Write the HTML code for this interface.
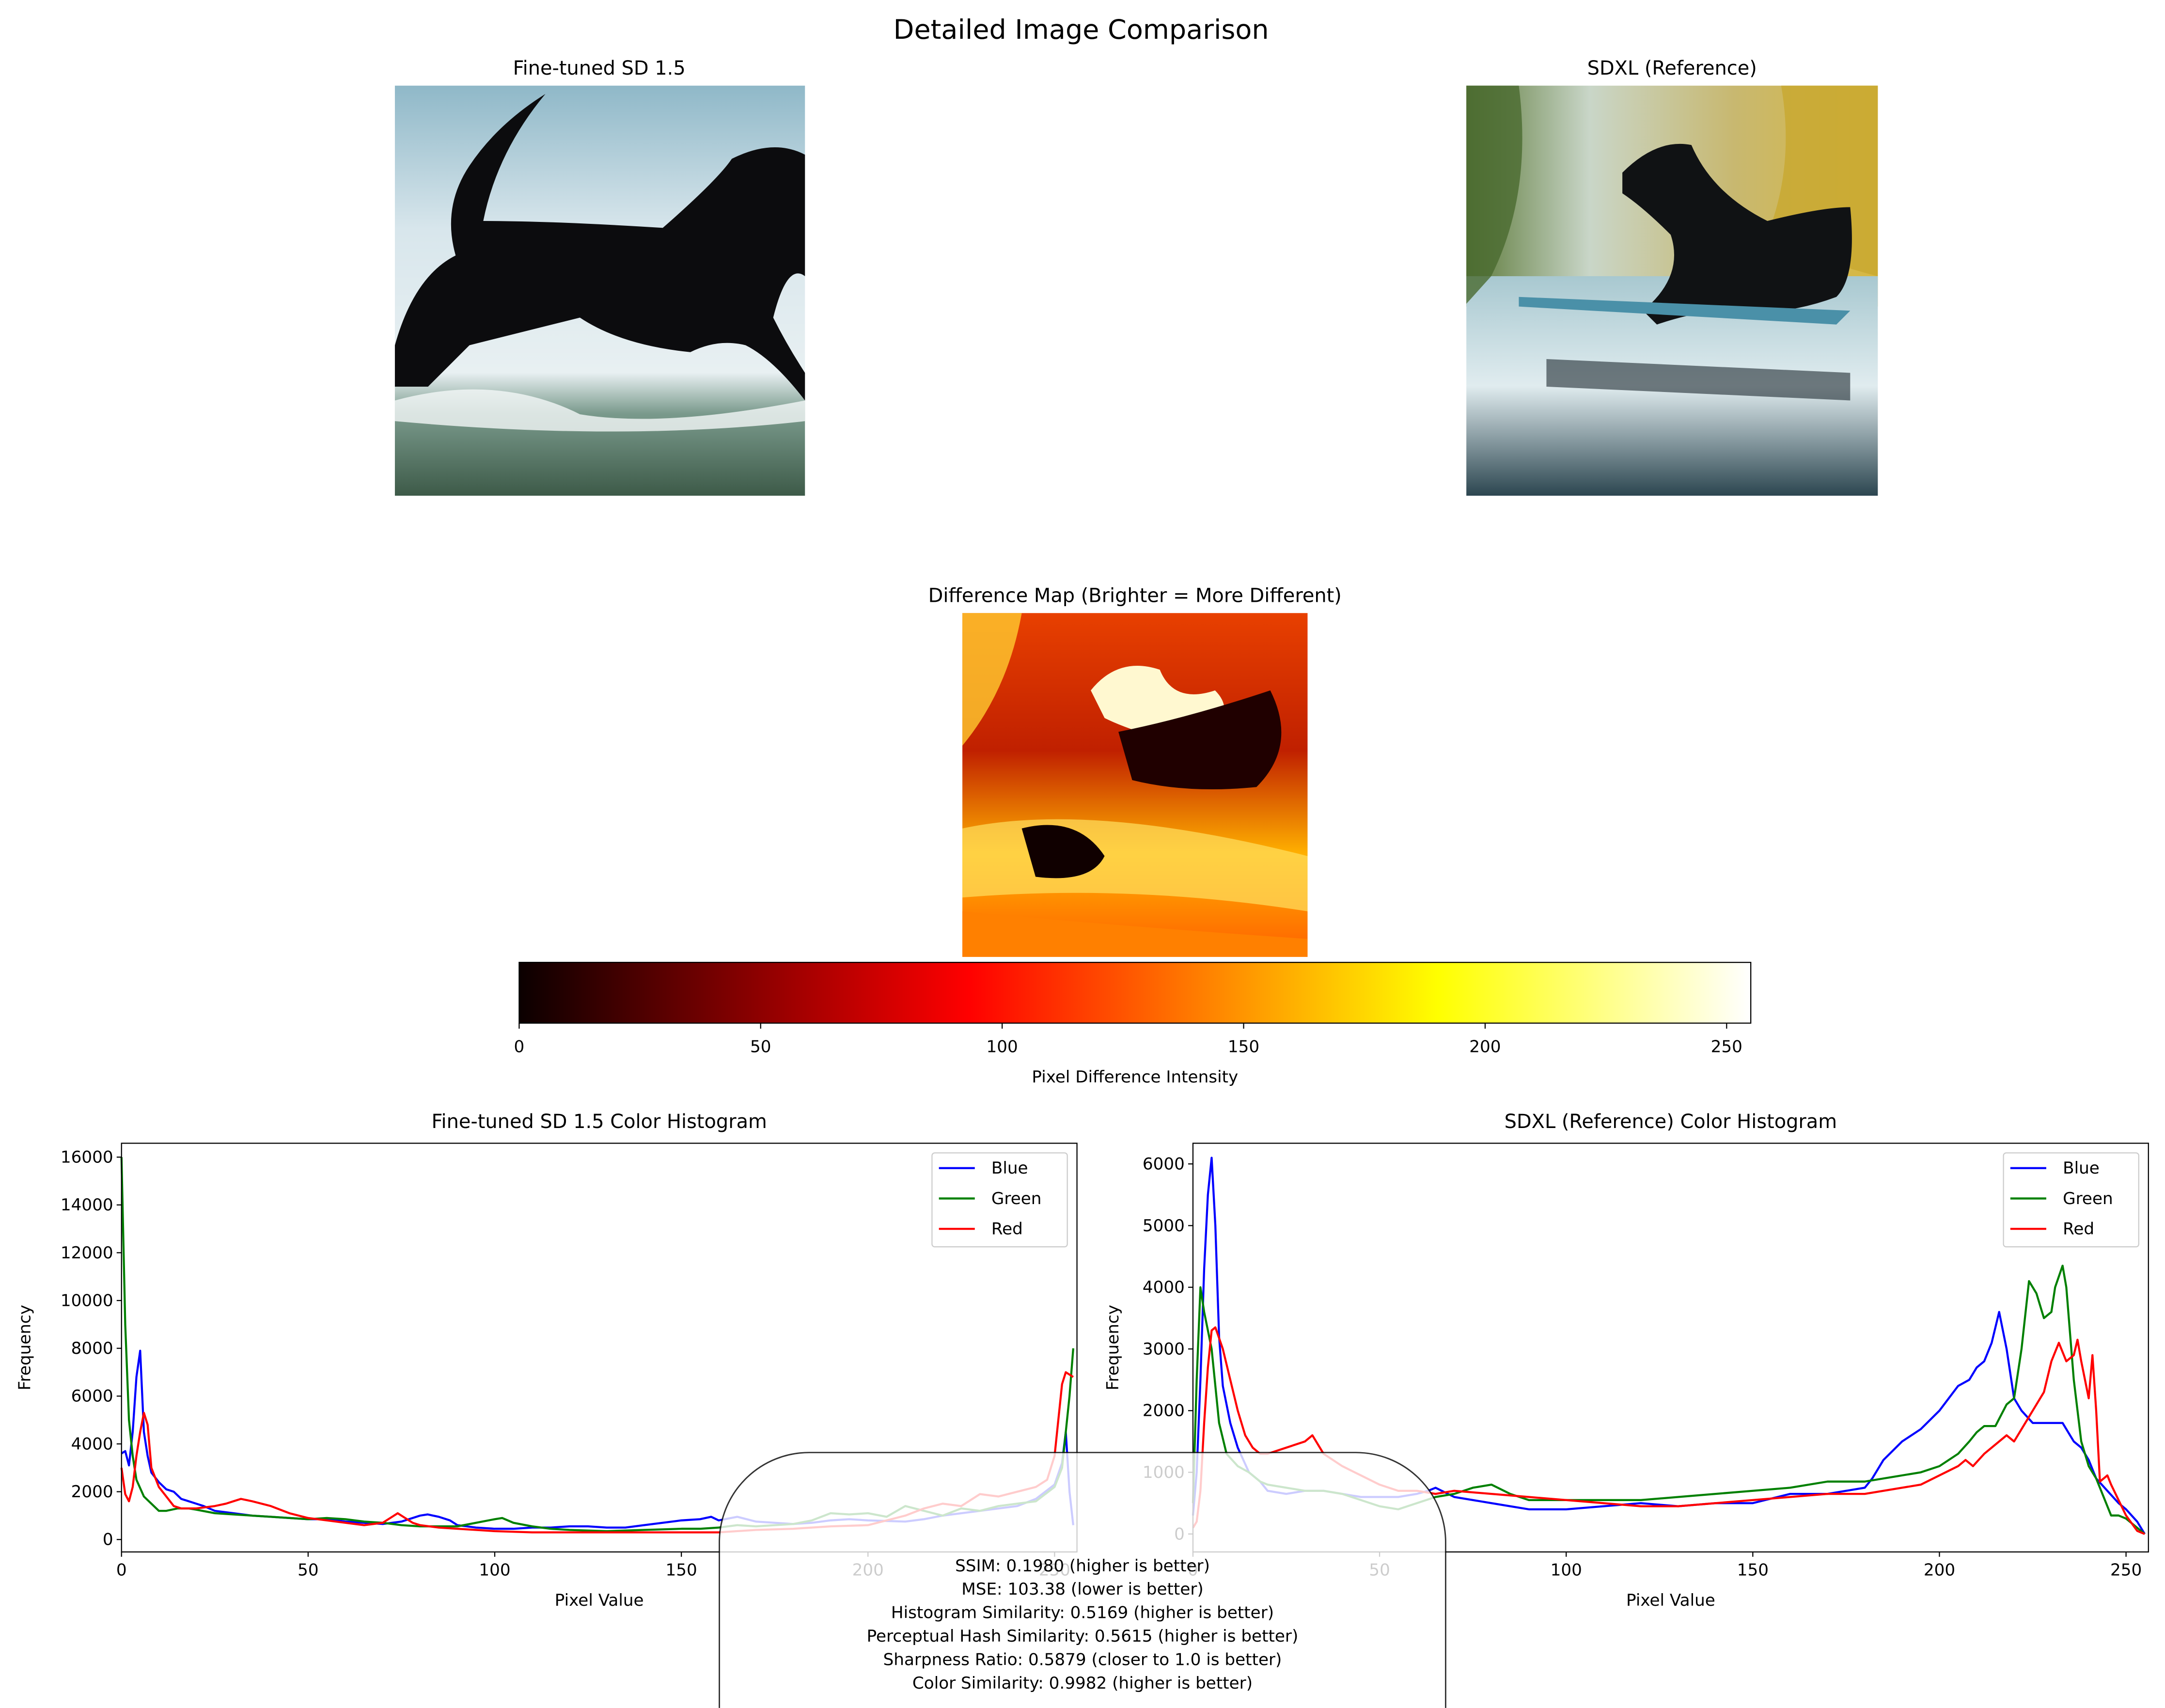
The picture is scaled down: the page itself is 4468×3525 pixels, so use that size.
<!DOCTYPE html>
<html><head><meta charset="utf-8"><style>
html,body{margin:0;padding:0;background:#fff;width:4468px;height:3525px;overflow:hidden}
svg{display:block;font-family:"DejaVu Sans","Liberation Sans",sans-serif;overflow:hidden}
</style></head><body>
<svg id="fig" width="4468" height="3525" viewBox="0 0 1568 1237" xmlns="http://www.w3.org/2000/svg">
<defs>
<linearGradient id="hot" x1="0" x2="1" y1="0" y2="0">
<stop offset="0" stop-color="#0b0000"/><stop offset="0.365" stop-color="#ff0000"/><stop offset="0.746" stop-color="#ffff00"/><stop offset="1" stop-color="#ffffff"/>
</linearGradient>
<linearGradient id="img1bg" x1="0" x2="0" y1="0" y2="1">
<stop offset="0" stop-color="#8fb8c8"/><stop offset="0.35" stop-color="#d8e6ec"/><stop offset="0.7" stop-color="#e8f0f2"/><stop offset="0.8" stop-color="#7a9a8c"/><stop offset="1" stop-color="#3d5a48"/>
</linearGradient>
<linearGradient id="img2bg" x1="0" x2="1" y1="0" y2="0">
<stop offset="0" stop-color="#5d7a3a"/><stop offset="0.3" stop-color="#c9d6c8"/><stop offset="0.65" stop-color="#c8b870"/><stop offset="1" stop-color="#d8b840"/>
</linearGradient>
<linearGradient id="img2w" x1="0" x2="0" y1="0" y2="1">
<stop offset="0" stop-color="#a8c8d0"/><stop offset="0.5" stop-color="#e0ecef"/><stop offset="1" stop-color="#2c4650"/>
</linearGradient>
<linearGradient id="diffbg" x1="0" x2="0" y1="0" y2="1">
<stop offset="0" stop-color="#e84000"/><stop offset="0.4" stop-color="#c02000"/><stop offset="0.7" stop-color="#ffb000"/><stop offset="1" stop-color="#ff6000"/>
</linearGradient>
</defs>

<text x="783" y="28" font-size="19.5" text-anchor="middle">Detailed Image Comparison</text>

<text x="434" y="54" font-size="14" text-anchor="middle">Fine-tuned SD 1.5</text>
<g>
<rect x="286" y="62" width="297" height="297" fill="url(#img1bg)"/>
<path d="M286 250 Q300 200 330 185 Q320 150 340 120 Q360 90 395 68 Q360 110 350 160 Q400 160 480 165 Q520 130 530 115 Q560 100 583 112 L583 200 Q570 190 560 230 Q570 250 583 270 L583 290 Q560 260 540 250 Q520 245 500 255 Q450 250 420 230 Q380 240 340 250 Q320 270 310 280 L286 280 Z" fill="#0c0c0e"/>
<path d="M286 290 Q360 270 420 300 Q480 310 583 290 L583 305 Q450 320 286 305 Z" fill="#f4f8f8" opacity="0.8"/>
</g>

<text x="1211" y="54" font-size="14" text-anchor="middle">SDXL (Reference)</text>
<g>
<rect x="1062" y="62" width="298" height="160" fill="url(#img2bg)"/>
<rect x="1062" y="200" width="298" height="159" fill="url(#img2w)"/>
<path d="M1062 62 L1100 62 Q1110 140 1080 200 L1062 220 Z" fill="#4a6a30" opacity="0.8"/>
<path d="M1290 62 L1360 62 L1360 200 Q1320 190 1280 170 Q1300 120 1290 62 Z" fill="#c8a830" opacity="0.8"/>
<path d="M1175 125 Q1200 100 1225 105 Q1240 140 1280 160 Q1320 150 1340 150 Q1345 200 1330 215 Q1290 230 1250 225 Q1230 225 1200 235 L1190 225 Q1220 200 1210 170 Q1190 150 1175 140 Z" fill="#101214"/>
<path d="M1100 215 L1340 225 L1330 235 L1100 222 Z" fill="#4a90a8"/>
<path d="M1120 260 L1340 270 L1340 290 L1120 280 Z" fill="#1e2a30" opacity="0.6"/>
</g>

<text x="822" y="436" font-size="14" text-anchor="middle">Difference Map (Brighter = More Different)</text>
<g>
<rect x="697" y="444" width="250" height="249" fill="url(#diffbg)"/>
<path d="M697 444 L740 444 Q730 500 697 540 Z" fill="#ffcc30" opacity="0.8"/>
<path d="M790 500 Q810 475 840 485 Q850 510 880 500 Q900 520 860 540 Q820 530 800 520 Z" fill="#fff8d0"/>
<path d="M810 530 Q860 520 920 500 Q940 540 910 570 Q860 575 820 565 Z" fill="#200000"/>
<path d="M697 600 Q790 580 947 620 L947 660 Q820 640 697 650 Z" fill="#ffe060" opacity="0.7"/>
<path d="M740 600 Q780 590 800 620 Q790 640 750 635 Z" fill="#100000"/>
<path d="M697 660 Q800 670 947 680 L947 693 L697 693 Z" fill="#ff8000"/>
</g>

<g>
<rect x="376" y="697" width="892" height="44" fill="url(#hot)" stroke="#000" stroke-width="0.8"/>
<g id="cbticks"></g>
<text x="822" y="784" font-size="12" text-anchor="middle">Pixel Difference Intensity</text>
</g>

<g id="h1"></g>
<g id="h2"></g>

<g id="mbox">
<path d="M521 1237 L521 1117 A65 65 0 0 1 586 1052 L982 1052 A65 65 0 0 1 1047 1117 L1047 1237 Z" fill="#ffffff" fill-opacity="0.8" stroke="none"/>
<path d="M521 1237 L521 1117 A65 65 0 0 1 586 1052 L982 1052 A65 65 0 0 1 1047 1117 L1047 1237" fill="none" stroke="#000" stroke-opacity="0.8" stroke-width="1"/>
<g font-size="12" text-anchor="middle">
<text x="784" y="1138">SSIM: 0.1980 (higher is better)</text>
<text x="784" y="1155">MSE: 103.38 (lower is better)</text>
<text x="784" y="1172">Histogram Similarity: 0.5169 (higher is better)</text>
<text x="784" y="1189">Perceptual Hash Similarity: 0.5615 (higher is better)</text>
<text x="784" y="1206">Sharpness Ratio: 0.5879 (closer to 1.0 is better)</text>
<text x="784" y="1223">Color Similarity: 0.9982 (higher is better)</text>
</g>
</g>
</svg>
<script>
const NS="http://www.w3.org/2000/svg";
const cbTicks=[0,50,100,150,200,250];
const h1Blue=[[0,3600],[1,3700],[2,3100],[3,4500],[4,6800],[5,7900],[6,4500],[7,3500],[8,2800],[10,2400],[12,2100],[14,2000],[16,1700],[18,1600],[20,1500],[22,1400],[25,1200],[30,1100],[35,1000],[40,950],[45,900],[50,850],[55,850],[60,750],[65,700],[70,650],[75,750],[80,1000],[82,1050],[85,950],[88,800],[90,600],[95,500],[100,450],[105,450],[110,500],[115,500],[120,550],[125,550],[130,500],[135,500],[140,600],[145,700],[150,800],[155,850],[158,950],[160,800],[165,950],[170,750],[175,700],[180,650],[185,700],[190,800],[195,850],[200,800],[210,750],[215,850],[220,1000],[230,1200],[240,1400],[245,1700],[250,2300],[252,3200],[253,4500],[254,2000],[255,600]];
const h1Green=[[0,16000],[1,9000],[2,5000],[3,3500],[4,2500],[6,1800],[8,1500],[10,1200],[12,1200],[15,1300],[18,1300],[20,1250],[25,1100],[30,1050],[35,1000],[40,950],[45,900],[50,850],[55,900],[60,850],[65,750],[70,700],[75,600],[80,550],[85,550],[90,550],[95,700],[100,850],[102,900],[105,700],[110,550],[115,450],[120,400],[130,350],[140,400],[150,450],[155,450],[160,500],[165,600],[170,550],[180,650],[185,800],[190,1100],[195,1050],[200,1100],[205,950],[210,1400],[215,1200],[220,1000],[225,1300],[230,1200],[235,1400],[240,1500],[245,1600],[250,2200],[252,3000],[253,4500],[254,6000],[255,8000]];
const h1Red=[[0,3000],[1,1900],[2,1600],[3,2200],[4,3500],[5,4500],[6,5300],[7,4800],[8,3000],[10,2200],[12,1800],[14,1400],[16,1300],[20,1300],[25,1400],[28,1500],[30,1600],[32,1700],[35,1600],[40,1400],[45,1100],[50,900],[55,800],[60,700],[65,600],[70,700],[72,900],[74,1100],[76,900],[78,700],[80,600],[85,500],[90,450],[95,400],[100,350],[110,300],[120,300],[130,300],[140,300],[150,300],[160,300],[170,400],[180,450],[190,550],[200,600],[205,800],[210,1000],[215,1300],[220,1500],[225,1400],[230,1900],[235,1800],[240,2000],[245,2200],[248,2500],[250,3500],[251,5000],[252,6500],[253,7000],[255,6800]];
const h2Blue=[[0,300],[1,1000],[2,2500],[3,4300],[4,5500],[5,6100],[6,5000],[7,3200],[8,2400],[10,1800],[12,1400],[15,1000],[18,850],[20,700],[25,650],[30,700],[35,700],[40,650],[45,600],[50,600],[55,600],[60,650],[63,700],[65,750],[70,600],[75,550],[80,500],[85,450],[90,400],[95,400],[100,400],[110,450],[120,500],[130,450],[140,500],[150,500],[160,650],[170,650],[175,700],[180,750],[182,900],[185,1200],[190,1500],[195,1700],[200,2000],[205,2400],[208,2500],[210,2700],[212,2800],[214,3100],[216,3600],[218,3000],[220,2200],[222,2000],[225,1800],[230,1800],[233,1800],[236,1500],[238,1400],[240,1200],[242,900],[245,700],[248,500],[250,400],[253,200],[255,0]];
const h2Green=[[0,500],[1,2500],[2,4000],[3,3600],[5,3000],[7,1800],[9,1300],[12,1100],[15,1000],[18,850],[20,800],[25,750],[30,700],[35,700],[40,650],[45,550],[50,450],[55,400],[60,500],[65,600],[70,650],[75,750],[80,800],[85,650],[90,550],[100,550],[110,550],[120,550],[130,600],[140,650],[150,700],[160,750],[170,850],[180,850],[185,900],[190,950],[195,1000],[200,1100],[205,1300],[208,1500],[210,1650],[212,1750],[215,1750],[218,2100],[220,2200],[222,3000],[224,4100],[226,3900],[228,3500],[230,3600],[231,4000],[233,4350],[234,4000],[236,2500],[238,1500],[240,1100],[242,900],[244,600],[246,300],[248,300],[250,250],[253,100],[255,0]];
const h2Red=[[0,100],[1,200],[2,700],[3,1800],[4,2700],[5,3300],[6,3350],[8,3000],[10,2500],[12,2000],[14,1600],[16,1400],[18,1300],[20,1300],[25,1400],[30,1500],[32,1600],[35,1300],[40,1100],[45,950],[50,800],[55,700],[60,700],[65,650],[70,700],[80,650],[90,600],[100,550],[110,500],[120,450],[130,450],[140,500],[150,550],[160,600],[170,650],[180,650],[185,700],[190,750],[195,800],[200,950],[205,1100],[207,1200],[209,1100],[212,1300],[215,1450],[218,1600],[220,1500],[223,1800],[225,2000],[228,2300],[230,2800],[232,3100],[234,2800],[236,2900],[237,3150],[238,2800],[240,2200],[241,2900],[242,2000],[243,850],[245,950],[246,800],[250,300],[253,50],[255,0]];
const xTicks=[0,50,100,150,200,250];
const h1YTicks=[0,2000,4000,6000,8000,10000,12000,14000,16000];
const h2YTicks=[0,1000,2000,3000,4000,5000,6000];
const legendNames=["Blue","Green","Red"];

function mk(tag,attrs,parent){const e=document.createElementNS(NS,tag);for(const k in attrs)e.setAttribute(k,attrs[k]);parent.appendChild(e);return e;}

const cb=document.getElementById('cbticks');
const cbX=v=>376+v/255*892;
cbTicks.forEach(v=>{
  const l=mk('line',{x1:cbX(v),x2:cbX(v),y1:741,y2:745,stroke:'#000','stroke-width':0.8},cb);
  
  
  const t=mk('text',{x:cbX(v),y:762,'font-size':12,'text-anchor':'middle'},cb);
  t.textContent=v;
  
  
});

function hist(g,title,x0,x1,y0,y1,xmin,xmax,ymin,ymax,yticks,series,ylx){
  const X=v=>x0+(v-xmin)/(xmax-xmin)*(x1-x0);
  const Y=v=>y1-(v-ymin)/(ymax-ymin)*(y1-y0);
  const tt=mk('text',{x:(x0+x1)/2,y:y0-11,'font-size':14,'text-anchor':'middle'},g);
  tt.textContent=title;
  
  
  series.forEach(s=>{
    const p=mk('path',{d:s.data.map((d,i)=>(i?'L':'M')+X(d[0]).toFixed(2)+' '+Y(d[1]).toFixed(2)).join(''),fill:'none',stroke:s.color,'stroke-width':1.5,'stroke-linejoin':'round'},g);
    
    
  });
  const fr=mk('rect',{x:x0,y:y0,width:x1-x0,height:y1-y0,fill:'none',stroke:'#000','stroke-width':0.8},g);
  
  
  xTicks.forEach(v=>{
    mk('line',{x1:X(v),x2:X(v),y1:y1,y2:y1+3.5,stroke:'#000','stroke-width':0.8},g);
    const t=mk('text',{x:X(v),y:y1+17,'font-size':12,'text-anchor':'middle'},g);
    t.textContent=v;
    
    
  });
  yticks.forEach(v=>{
    mk('line',{x1:x0-3.5,x2:x0,y1:Y(v),y2:Y(v),stroke:'#000','stroke-width':0.8},g);
    const t=mk('text',{x:x0-6,y:Y(v)+4,'font-size':12,'text-anchor':'end'},g);
    t.textContent=v;
    
    
  });
  const xl=mk('text',{x:(x0+x1)/2,y:y1+39,'font-size':12,'text-anchor':'middle'},g);
  xl.textContent='Pixel Value';
  
  
  const ym=(y0+y1)/2;
  const yl=mk('text',{x:ylx,y:ym,'font-size':12,'text-anchor':'middle',transform:`rotate(-90 ${ylx} ${ym})`},g);
  yl.textContent='Frequency';
  
  
  const lx=x1-105,ly=y0+7;
  const lg=mk('g',{},g);
  
  
  mk('rect',{x:lx,y:ly,width:98,height:68,rx:2,fill:'#fff','fill-opacity':0.8,stroke:'#ccc','stroke-width':0.8},lg);
  series.forEach((s,i)=>{
    const yy=ly+11+i*22;
    mk('line',{x1:lx+5,x2:lx+31,y1:yy,y2:yy,stroke:s.color,'stroke-width':1.5},lg);
    const t=mk('text',{x:lx+43,y:yy+4,'font-size':12},lg);
    t.textContent=s.name;
    
    
  });
}
hist(document.getElementById('h1'),'Fine-tuned SD 1.5 Color Histogram',88,780,828,1124,0,256,-520,16580,h1YTicks,
 [{name:legendNames[0],color:'#0000ff',data:h1Blue},{name:legendNames[1],color:'#008000',data:h1Green},{name:legendNames[2],color:'#ff0000',data:h1Red}],22);
hist(document.getElementById('h2'),'SDXL (Reference) Color Histogram',864,1556,828,1124,0,256,-291,6335,h2YTicks,
 [{name:legendNames[0],color:'#0000ff',data:h2Blue},{name:legendNames[1],color:'#008000',data:h2Green},{name:legendNames[2],color:'#ff0000',data:h2Red}],810);
const fig=document.getElementById('fig');
fig.appendChild(document.getElementById('mbox'));
</script>
</body></html>
